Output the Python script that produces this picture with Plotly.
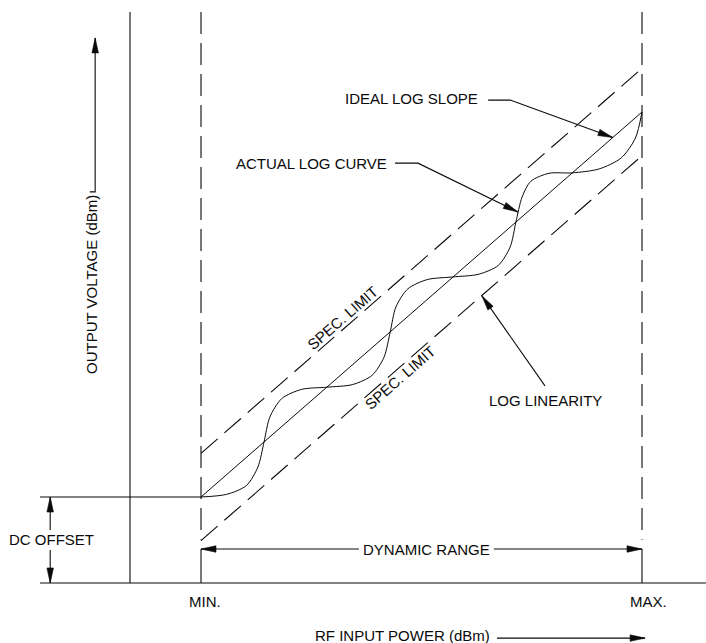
import math
import plotly.graph_objects as go

# ---------------- data (diagram units: MIN=0, MAX=100 on x; baseline=0 on y) ----------------
curve_x = [0.0, 5.8, 10.3, 12.9, 14.3, 15.6, 18.3, 22.8, 28.6, 34.4, 38.8, 41.5, 42.9, 44.2,
           46.9, 51.3, 57.1, 62.9, 67.4, 70.1, 71.4, 72.8, 74.8, 78.9, 84.2, 90.3, 95.3, 98.5, 100.0]
curve_y = [19.5, 20.1, 22.1, 26.3, 32.0, 37.6, 41.8, 43.9, 44.4, 45.0, 47.1, 51.2, 56.9, 62.6,
           66.7, 68.8, 69.4, 70.0, 72.0, 76.2, 81.8, 87.5, 91.1, 92.9, 93.0, 93.9, 96.4, 100.9, 106.8]

ideal_x = [0, 100]
ideal_y = [19.5, 106.8]
upper_spec_y = [29.4, 116.7]
lower_spec_y = [9.6, 96.9]

min_x, max_x = 0, 100
left_axis_x = -16.1
top_y = 129.5
dash_bottom_y = 9.8
dc_offset_y = 19.5
dc_line_x = [-36.5, 0]
base_line_x = [-36.5, 114.5]

# arrow leaders (tip is the last point)
arrow_ideal = ([65.1, 70.1, 93.4], [109.5, 109.5, 101.0])
arrow_actual = ([44.0, 49.2, 71.9], [95.2, 95.2, 84.1])
arrow_linearity = ([78.0, 63.7], [44.7, 65.1])
arrow_dr_left = ([35.8, 0.0], [7.7, 7.7])
arrow_dr_right = ([66.4, 100.0], [7.7, 7.7])
arrow_dc_up = ([-34.2, -34.2], [12.0, 19.5])
arrow_dc_down = ([-34.2, -34.2], [7.5, 0.0])
arrow_vout = ([-25.2, -24.0, -24.0], [88.7, 88.7, 123.6])
arrow_rf = ([67.1, 100.7], [-12.5, -12.5])

labels = ["IDEAL LOG SLOPE", "ACTUAL LOG CURVE", "LOG LINEARITY", "DYNAMIC RANGE",
          "DC OFFSET", "MIN.", "MAX.", "RF INPUT POWER (dBm)", "OUTPUT VOLTAGE (dBm)",
          "SPEC. LIMIT", "SPEC. LIMIT"]
label_x = [47.7, 25.1, 78.2, 51.2, -33.8, 0.9, 101.4, 45.8, -24.7, 32.2, 45.1]
label_y = [109.8, 95.2, 41.3, 7.7, 9.75, -4.3, -4.2, -11.8, 67.6, 60.1, 46.7]
label_angle = [0, 0, 0, 0, 0, 0, 0, 0, -90, -41.1, -41.1]

# ---------------- figure ----------------
W_PX, H_PX = 706, 643
X_RANGE = [-45.58, 114.51]
Y_RANGE = [-13.61, 132.2]
SX = W_PX / (X_RANGE[1] - X_RANGE[0])   # pixels per x unit
SY = H_PX / (Y_RANGE[1] - Y_RANGE[0])   # pixels per y unit

INK = "#0a0a0a"
FONT = dict(family="Liberation Sans, Arial, Helvetica, sans-serif", size=15, color=INK)
DASH = "22px,9px"

fig = go.Figure()


def line(xs, ys, dash="solid", width=1.1):
    fig.add_trace(go.Scatter(x=xs, y=ys, mode="lines",
                             line=dict(color=INK, width=width, dash=dash),
                             hoverinfo="skip"))


def arrow(pts, head_len=15.0, head_w=6.5):
    xs, ys = pts
    line(xs, ys)
    # arrowhead: narrow filled triangle pointing along the last segment
    dx = (xs[-1] - xs[-2]) * SX
    dy = (ys[-1] - ys[-2]) * SY
    d = math.hypot(dx, dy)
    ux, uy = dx / d, dy / d
    bx = xs[-1] - head_len * ux / SX
    by = ys[-1] - head_len * uy / SY
    nx, ny = -uy * head_w / 2, ux * head_w / 2
    hx = [xs[-1], bx + nx / SX, bx - nx / SX, xs[-1]]
    hy = [ys[-1], by + ny / SY, by - ny / SY, ys[-1]]
    fig.add_trace(go.Scatter(x=hx, y=hy, mode="lines", fill="toself", fillcolor=INK,
                             line=dict(color=INK, width=0.6), hoverinfo="skip"))


# frame lines
line([left_axis_x, left_axis_x], [0, top_y])
line([min_x, min_x], [top_y, dash_bottom_y], dash=DASH)
line([max_x, max_x], [top_y, dash_bottom_y], dash=DASH)
line([min_x, min_x], [arrow_dr_left[1][0], 0])
line([max_x, max_x], [arrow_dr_right[1][0], 0])
line(base_line_x, [0, 0])
line(dc_line_x, [dc_offset_y, dc_offset_y])

# spec limits, ideal slope and actual curve
line(ideal_x, upper_spec_y, dash=DASH)
line(ideal_x, lower_spec_y, dash=DASH)
line(ideal_x, ideal_y, width=1.0)
fig.add_trace(go.Scatter(x=curve_x, y=curve_y, mode="lines",
                         line=dict(color=INK, width=1.0, shape="spline", smoothing=0.8),
                         hoverinfo="skip"))

# arrows
for a in [arrow_ideal, arrow_actual, arrow_linearity, arrow_dr_left, arrow_dr_right,
          arrow_dc_up, arrow_dc_down, arrow_vout, arrow_rf]:
    arrow(a)

# labels
for t, x, y, ang in zip(labels, label_x, label_y, label_angle):
    fig.add_annotation(x=x, y=y, xref="x", yref="y", text=t, showarrow=False,
                       textangle=ang, font=FONT, xanchor="center", yanchor="middle",
                       bgcolor="rgba(0,0,0,0)")

fig.update_layout(
    width=W_PX, height=H_PX, autosize=False,
    margin=dict(l=0, r=0, t=0, b=0),
    paper_bgcolor="white", plot_bgcolor="white",
    showlegend=False,
    xaxis=dict(range=X_RANGE, visible=False, fixedrange=True),
    yaxis=dict(range=Y_RANGE, visible=False, fixedrange=True),
)

fig.write_html("out.html", config={"displayModeBar": False},
               post_script="document.body.style.margin='0';document.body.style.overflow='hidden';")
